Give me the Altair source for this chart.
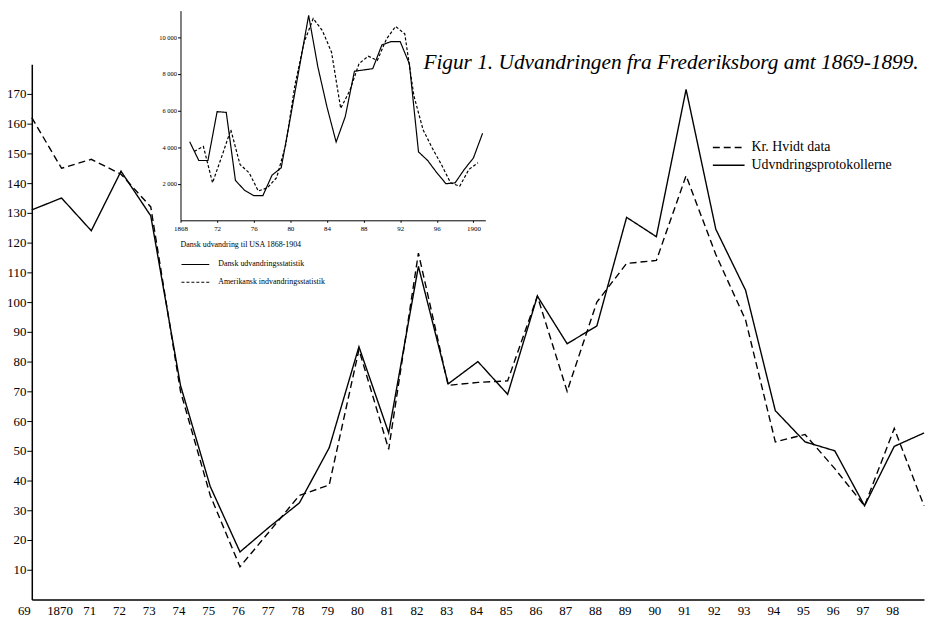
import altair as alt
import pandas as pd

# ---- main chart data (Frederiksborg amt, index) ----
years = list(range(1869, 1900))
protokol = [131, 135, 124, 144, 129, 72, 38, 16, 24.5, 32.5, 51, 85, 56, 112, 72.5,
            80, 69, 102, 86, 92, 128.5, 122, 171.5, 124.5, 104, 63.5, 53, 50, 31.5, 51.5, 56]
hvidt = [162, 145, 148, 143, 132, 70, 35, 11, 23, 35, 38.5, 84, 50.5, 116.5, 72,
         73, 73.5, 102, 70, 100, 113, 114, 142.5, 116, 94, 53, 55.5, 44, 31.5, 57.5, 31.5]
main_series = ["Kr. Hvidt data", "Udvndringsprotokollerne"]
y_ticks = list(range(10, 180, 10))
x_ticks = list(range(1869, 1899))

# ---- inset data (Dansk udvandring til USA) ----
dansk_years = list(range(1869, 1902))
dansk = [4300, 3270, 3270, 5940, 5900, 2180, 1640, 1350, 1350, 2470, 2870, 5600, 8400,
         11200, 8400, 6200, 4280, 5670, 8150, 8220, 8290, 9590, 9770, 9770, 8560, 3740,
         3270, 2600, 2000, 2050, 2780, 3410, 4760]
amer_years = [y + 0.5 for y in range(1869, 1901)]
amer = [3770, 4040, 2050, 3480, 4950, 3050, 2600, 1600, 1780, 2330, 4130, 7390, 9730,
        11030, 10370, 9190, 6120, 7100, 8560, 8975, 8740, 9915, 10600, 10190, 6800, 4950,
        3950, 3050, 2050, 1860, 2780, 3150]
inset_series = ["Dansk udvandringsstatistik", "Amerikansk indvandringsstatistik"]
inset_x_ticks = [1868, 1872, 1876, 1880, 1884, 1888, 1892, 1896, 1900]
inset_y_ticks = [2000, 4000, 6000, 8000, 10000]

title_text = "Figur 1. Udvandringen fra Frederiksborg amt 1869-1899."
inset_title = "Dansk udvandring til USA 1868-1904"

FONT = "Liberation Serif"

main_df = pd.concat([
    pd.DataFrame({"year": years, "value": hvidt, "serie": main_series[0]}),
    pd.DataFrame({"year": years, "value": protokol, "serie": main_series[1]}),
])
inset_df = pd.concat([
    pd.DataFrame({"year": dansk_years, "value": dansk, "serie": inset_series[0]}),
    pd.DataFrame({"year": amer_years, "value": amer, "serie": inset_series[1]}),
])

main = alt.Chart(main_df).mark_line(color="black", strokeWidth=1.4).encode(
    x=alt.X("year:Q",
            scale=alt.Scale(domain=[1869, 1899], nice=False, zero=False),
            axis=alt.Axis(values=x_ticks, format="d",
                          labelExpr="datum.value == 1870 ? '1870' : substring(datum.label, 2)",
                          ticks=False, grid=False, title=None, labelPadding=5,
                          labelFont=FONT, labelFontSize=13, labelColor="black",
                          labelFlush=False,
                          labelOffset={"condition": {"test": "datum.value == 1869", "value": -8}, "value": -2},
                          domainColor="black", domainWidth=1.5, labelOverlap=False)),
    y=alt.Y("value:Q",
            scale=alt.Scale(domain=[0, 180], nice=False),
            axis=alt.Axis(values=y_ticks, grid=False, title=None, tickSize=5,
                          tickColor="black", tickWidth=1, labelPadding=1,
                          labelFont=FONT, labelFontSize=13, labelColor="black",
                          domainColor="black", domainWidth=1.5)),
    strokeDash=alt.StrokeDash("serie:N",
                              scale=alt.Scale(domain=main_series, range=[[7, 4], [1, 0]]),
                              legend=alt.Legend(title=None, orient="none", legendX=686, legendY=77,
                                                symbolType="stroke", symbolSize=1024,
                                                symbolStrokeWidth=1.4, symbolStrokeColor="black",
                                                labelFont=FONT, labelFontSize=14, labelColor="black",
                                                labelOffset=6, clipHeight=14, rowPadding=4,
                                                labelLimit=300)),
)

inset = alt.Chart(inset_df).mark_line(color="black", strokeWidth=1.2).encode(
    x=alt.X("year:Q",
            scale=alt.Scale(domain=[1868, 1901.3], range=[150, 457.5], nice=False, zero=False),
            axis=alt.Axis(orient="bottom", offset=-382.5, values=inset_x_ticks, format="d",
                          labelExpr="(datum.value == 1868 || datum.value == 1900) ? datum.label : substring(datum.label, 2)",
                          grid=False, title=None, tickSize=2, tickColor="black", labelPadding=2,
                          labelFont=FONT, labelFontSize=7, labelColor="black", labelFlush=False,
                          domainColor="black", domainWidth=1, labelOverlap=False)),
    y=alt.Y("value:Q",
            scale=alt.Scale(domain=[0, 11463], range=[157.5, -54], nice=False),
            axis=alt.Axis(orient="left", offset=-150, values=inset_y_ticks,
                          labelExpr="replace(format(datum.value, ','), ',', ' ')",
                          grid=False, title=None, tickSize=3, tickColor="black", labelPadding=1,
                          labelFont=FONT, labelFontSize=6.5, labelColor="black",
                          domainColor="black", domainWidth=1)),
    strokeDash=alt.StrokeDash("serie:N",
                              scale=alt.Scale(domain=inset_series, range=[[1, 0], [3, 2]]),
                              legend=alt.Legend(title=inset_title, orient="none", legendX=150, legendY=178,
                                                titleFont=FONT, titleFontSize=8, titleFontWeight="normal",
                                                titleColor="black", titlePadding=11,
                                                symbolType="stroke", symbolSize=784,
                                                symbolStrokeWidth=1.1, symbolStrokeColor="black",
                                                labelFont=FONT, labelFontSize=8, labelColor="black",
                                                labelOffset=8, clipHeight=10, rowPadding=8,
                                                labelLimit=300, titleLimit=400)),
)

title = alt.Chart(pd.DataFrame({"t": [title_text]})).mark_text(
    align="left", baseline="alphabetic", font=FONT, fontSize=21.5, fontStyle="italic",
    color="black",
).encode(text="t:N", x=alt.value(395), y=alt.value(5))

chart = alt.layer(main, inset, title).resolve_scale(
    x="independent", y="independent", strokeDash="independent"
).resolve_legend(strokeDash="independent").properties(
    width=900, height=540,
    padding={"left": 24, "top": 54, "right": 1, "bottom": 17},
    autosize=alt.AutoSizeParams(type="none"),
    background="white",
).configure_view(stroke=None)

chart.save("out.html", embed_options={"renderer": "svg", "actions": False})
